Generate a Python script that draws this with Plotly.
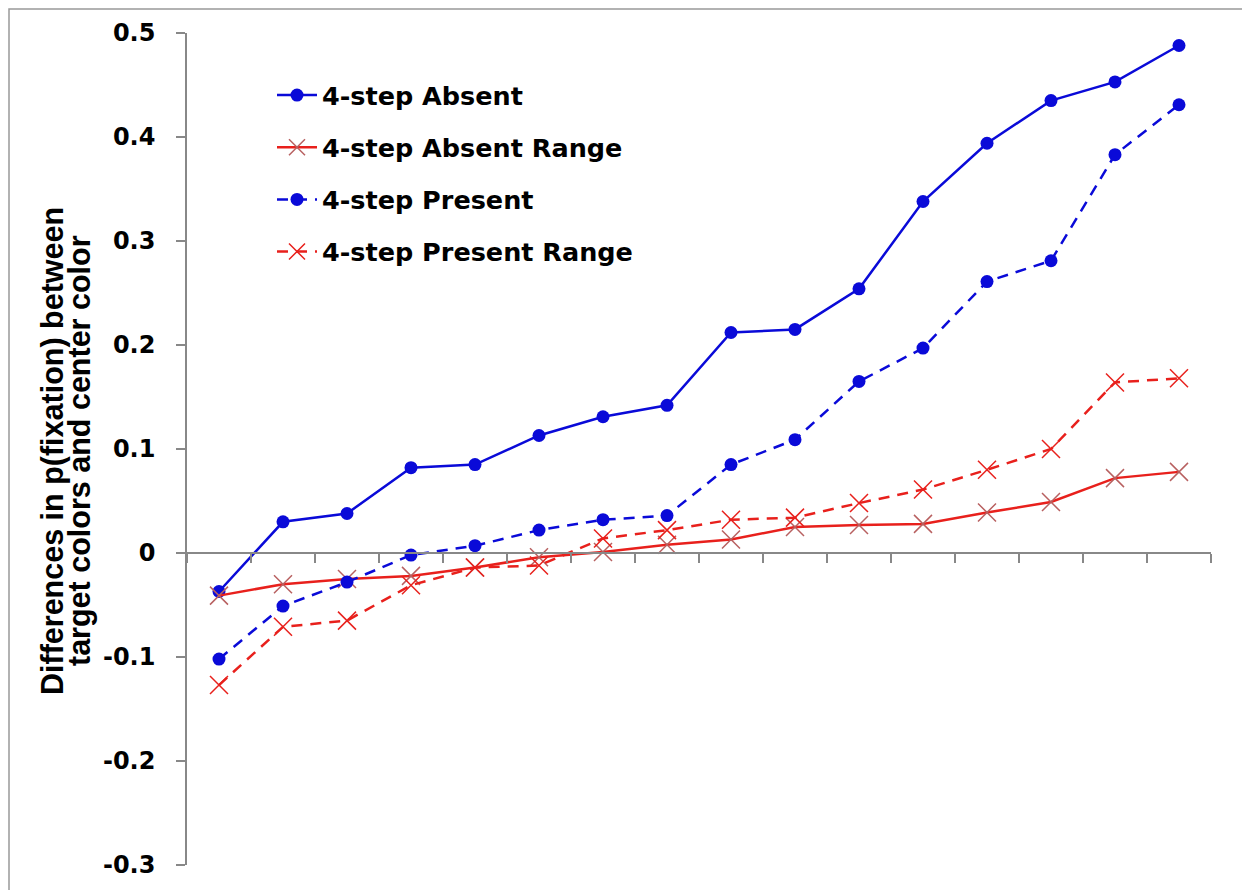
import plotly.graph_objects as go

# ---- data ----
x_idx = list(range(16))
absent = [-0.037, 0.030, 0.038, 0.082, 0.085, 0.113, 0.131, 0.142,
          0.212, 0.215, 0.254, 0.338, 0.394, 0.435, 0.453, 0.488]
absent_range = [-0.041, -0.030, -0.025, -0.022, -0.014, -0.004, 0.001, 0.008,
                0.013, 0.025, 0.027, 0.028, 0.039, 0.049, 0.072, 0.078]
present = [-0.102, -0.051, -0.028, -0.002, 0.007, 0.022, 0.032, 0.036,
           0.085, 0.109, 0.165, 0.197, 0.261, 0.281, 0.383, 0.431]
present_range = [-0.127, -0.071, -0.065, -0.031, -0.014, -0.012, 0.014, 0.022,
                 0.032, 0.034, 0.048, 0.061, 0.080, 0.100, 0.164, 0.168]

y_tickvals = [0.5, 0.4, 0.3, 0.2, 0.1, 0, -0.1, -0.2, -0.3]
y_ticktext = ["0.5", "0.4", "0.3", "0.2", "0.1", "0", "-0.1", "-0.2", "-0.3"]
x_tickvals = [i - 0.5 for i in range(17)]

y_title_lines = ["Differences in p(fixation) between", "target colors and center color"]

BLUE = "#0a0ad8"
RED = "#e8201c"
XGRAY = "#b86060"
DASH = "11px,8px"
BOLD = "DejaVu Sans, Verdana, sans-serif"
TITLE_FONT = "Liberation Sans, Arial, sans-serif"

# Page body has an 8px margin: figure origin sits at (8, 8) on screen.
OFF = 8
L, R, T, B = 187, 1211, 33, 865  # desired screen pixel bounds of plot area
W, H = 1250, 890

fig = go.Figure()
fig.add_trace(go.Scatter(
    x=x_idx, y=absent, name="4-step Absent", mode="lines+markers",
    line=dict(color=BLUE, width=2.5),
    marker=dict(symbol="circle", size=13, color=BLUE),
    legendgroup="a"))
fig.add_trace(go.Scatter(
    x=x_idx, y=absent_range, name="4-step Absent Range", mode="lines+markers",
    line=dict(color=RED, width=2.5),
    marker=dict(symbol="x-thin-open", size=18, color=XGRAY,
                line=dict(color=XGRAY, width=1.5)),
    legendgroup="b"))
fig.add_trace(go.Scatter(
    x=x_idx, y=present, name="4-step Present", mode="lines+markers",
    line=dict(color=BLUE, width=2.5, dash=DASH),
    marker=dict(symbol="circle", size=13, color=BLUE),
    legendgroup="c"))
fig.add_trace(go.Scatter(
    x=x_idx, y=present_range, name="4-step Present Range", mode="lines+markers",
    line=dict(color=RED, width=2.5, dash=DASH),
    marker=dict(symbol="x-thin-open", size=18, color=RED,
                line=dict(color=RED, width=1.5)),
    legendgroup="d"))

pw = R - L
ph = B - T


def px_x(x):
    return (x - L) / pw


def px_y(y):
    return (B - y) / ph


annotations = [
    dict(text=y_title_lines[0], textangle=-90, xref="paper", yref="paper",
         x=px_x(52), y=px_y(451), xanchor="center", yanchor="middle", showarrow=False,
         font=dict(size=30.5, family=TITLE_FONT, color="black", weight="bold")),
    dict(text=y_title_lines[1], textangle=-90, xref="paper", yref="paper",
         x=px_x(79), y=px_y(451), xanchor="center", yanchor="middle", showarrow=False,
         font=dict(size=30.5, family=TITLE_FONT, color="black", weight="bold")),
]

fig.update_layout(
    width=W, height=H,
    margin=dict(l=L - OFF, r=W + OFF - R, t=T - OFF, b=H + OFF - B),
    paper_bgcolor="white", plot_bgcolor="white",
    font=dict(family=BOLD, color="black"),
    showlegend=True,
    legend=dict(
        x=px_x(272), y=px_y(72), xanchor="left", yanchor="top",
        bgcolor="rgba(255,255,255,0)",
        font=dict(size=25.5, family=BOLD, color="black", weight="bold"),
        traceorder="grouped", tracegroupgap=16, itemwidth=40,
    ),
    xaxis=dict(
        range=[-0.5, 15.5], tickvals=x_tickvals, showticklabels=False,
        ticks="outside", ticklen=9, tickcolor="#888", tickwidth=1.5,
        showline=True, linecolor="#888", linewidth=1.5, showgrid=False, zeroline=False,
        anchor="free", position=0.375,
    ),
    yaxis=dict(
        range=[-0.3, 0.5], tickvals=y_tickvals, ticktext=y_ticktext,
        ticks="outside", ticklen=9, tickcolor="#888", tickwidth=1.5,
        showline=True, linecolor="#888", linewidth=1.5, showgrid=False, zeroline=False,
        tickfont=dict(size=24, family=BOLD, color="black", weight="bold"),
        ticklabelstandoff=16,
        automargin=False,
    ),
    annotations=annotations,
    shapes=[dict(type="rect", xref="paper", yref="paper",
                 x0=px_x(9), x1=px_x(1275),
                 y0=px_y(900), y1=px_y(9),
                 line=dict(color="#999", width=1.5), fillcolor="rgba(0,0,0,0)", layer="below")],
)

fig.write_html("out.html")
